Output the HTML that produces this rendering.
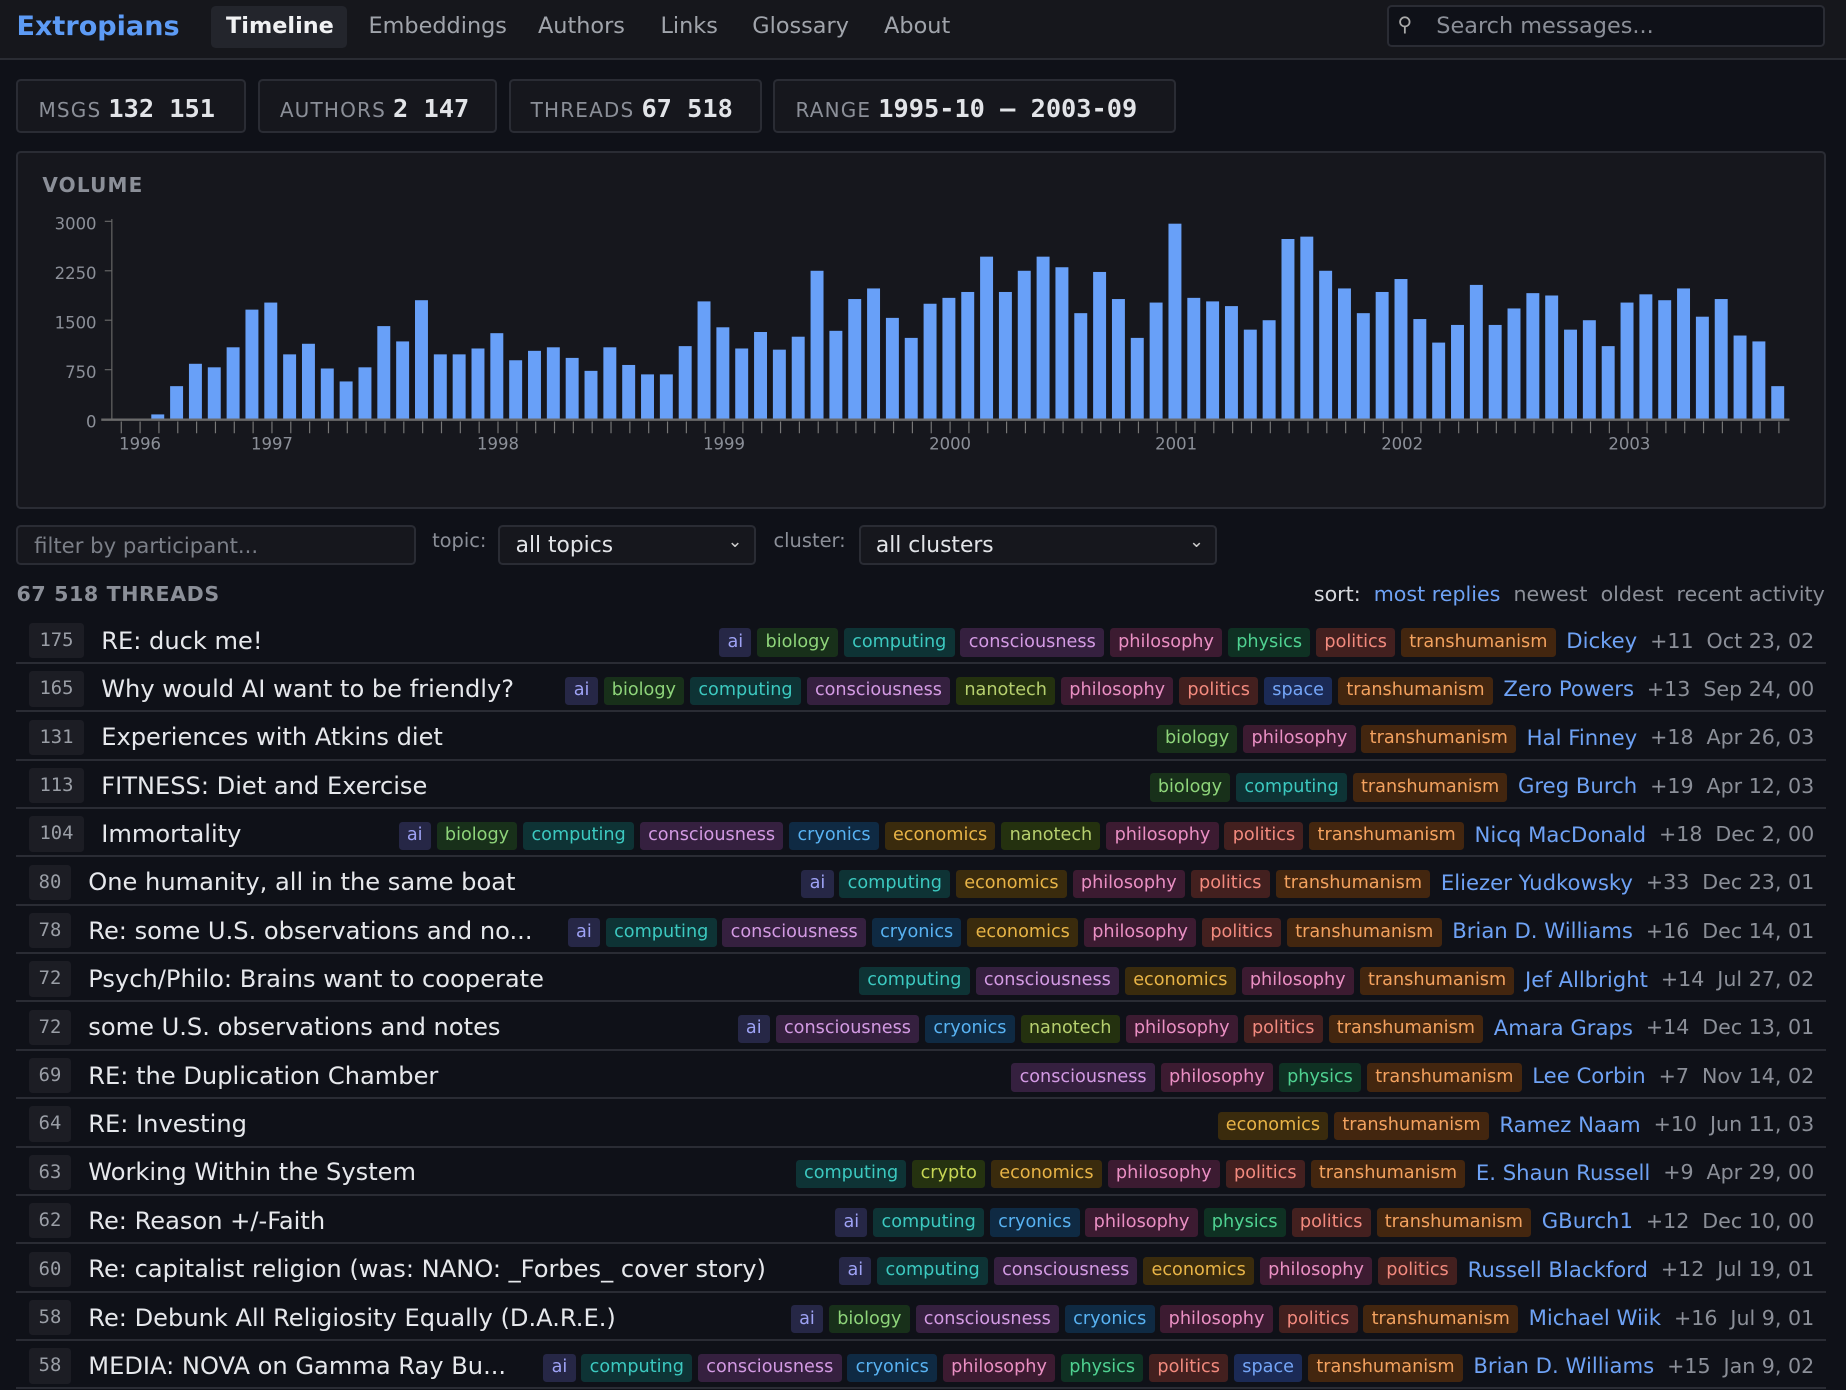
<!DOCTYPE html>
<html><head><meta charset="utf-8"><style>
*{box-sizing:border-box;margin:0;padding:0}
html,body{width:1846px;height:1390px;overflow:hidden;background:#0f1118}
#w{zoom:1.17730;width:1568px;height:1181px;position:relative;font-family:"DejaVu Sans","Liberation Sans",sans-serif;color:#c9ccd3}
.nav{position:absolute;left:0;top:0;width:1568px;height:51px;background:#16171c;border-bottom:2px solid #2a2c33}
.abs{position:absolute;white-space:nowrap}
.card{position:absolute;background:#16171d;border:2px solid #2a2c34;border-radius:4px}
.stat{top:67px;height:46px;font-size:17px;color:#8b8f98;letter-spacing:1px;padding:11px 17px}
.stat b{color:#e2e4e8;font-family:"DejaVu Sans Mono","Liberation Mono",monospace;font-size:21.5px;margin-left:6px;letter-spacing:0}
.row{position:absolute;left:14px;width:1537px;height:41px;border-bottom:2px solid #2a2c34;display:flex;align-items:center;padding-top:3px}
.cnt{margin-left:11px;width:46px;height:30px;background:#1c1d24;border-radius:3px;color:#9a9ea6;font-family:"DejaVu Sans Mono",monospace;font-size:16px;text-align:center;line-height:30px}
.cnt.s{width:35px}
.t{margin-left:15px;font-size:20.5px;color:#e6e8ec;white-space:nowrap;flex:1}
.tags{display:flex;gap:5px;align-items:center;white-space:nowrap;padding-top:3px}
.tg{font-size:15px;padding:2px 7px;border-radius:3px;line-height:20px}
.au{color:#6ea2f5;font-size:18px;margin-left:9px}
.pl{color:#8b8f98;font-size:17.5px;margin-left:11px}
.dt{color:#8b8f98;font-size:17.5px;margin-left:11px;margin-right:10px}
.ai{background:#262746;color:#9ea2f5}.biology{background:#18301a;color:#8ed47a}.computing{background:#0e3335;color:#3cc9c0}
.consciousness{background:#35203f;color:#d39ae3}.philosophy{background:#3c1b31;color:#ea8fc3}.physics{background:#0f3123;color:#4fd191}
.politics{background:#43201f;color:#f28a7e}.transhumanism{background:#43260f;color:#f3a25f}.nanotech{background:#24310f;color:#b6cf6e}
.cryonics{background:#0f2a43;color:#58b2f2}.economics{background:#3a2b0d;color:#e8b447}.space{background:#1b2a55;color:#74a5f7}.crypto{background:#253210;color:#c6d654}
</style></head><body><div id="w">
<div class="nav"></div>
<div class="abs" style="left:14px;top:9px;font-size:23px;font-weight:bold;color:#5d9bf5">Extropians</div>
<div class="abs" style="left:179px;top:5px;width:116px;height:36px;background:#23252c;border-radius:4px"></div>
<div class="abs" style="left:192px;top:11px;font-size:19px;font-weight:bold;color:#f0f1f3">Timeline</div>
<div class="abs" style="left:313px;top:11px;font-size:19px;color:#a0a4ab">Embeddings</div>
<div class="abs" style="left:457px;top:11px;font-size:19px;color:#a0a4ab">Authors</div>
<div class="abs" style="left:561px;top:11px;font-size:19px;color:#a0a4ab">Links</div>
<div class="abs" style="left:639px;top:11px;font-size:19px;color:#a0a4ab">Glossary</div>
<div class="abs" style="left:751px;top:11px;font-size:19px;color:#a0a4ab">About</div>
<div class="abs" style="left:1178px;top:4px;width:372px;height:36px;background:#0f1118;border:2px solid #2a2c34;border-radius:4px"></div>
<div class="abs" style="left:1187px;top:10px;font-size:17px;color:#aaa">&#9906;</div>
<div class="abs" style="left:1220px;top:11px;font-size:19px;color:#8b8f98">Search messages...</div>

<div class="card stat" style="left:14px;width:195px">MSGS<b>132 151</b></div>
<div class="card stat" style="left:219px;width:203px">AUTHORS<b>2 147</b></div>
<div class="card stat" style="left:432px;width:215px">THREADS<b>67 518</b></div>
<div class="card stat" style="left:657px;width:342px">RANGE<b>1995-10 – 2003-09</b></div>

<div class="card" style="left:14px;top:128px;width:1537px;height:304px"></div>
<div class="abs" style="left:36px;top:147px;font-size:17px;font-weight:bold;color:#8b8f98;letter-spacing:1px">VOLUME</div>
<svg class="abs" style="left:0;top:0" width="1568" height="440" font-family="DejaVu Sans,sans-serif" font-size="14" fill="#8b8f98">
<g id="bars" fill="#68a0f8"></g>
<line x1="95" y1="186" x2="95" y2="357" stroke="#666" stroke-width="1"/>
<g stroke="#666"><line x1="89" y1="188" x2="95" y2="188"/><line x1="89" y1="230" x2="95" y2="230"/><line x1="89" y1="272" x2="95" y2="272"/><line x1="89" y1="314" x2="95" y2="314"/><line x1="89" y1="356" x2="95" y2="356"/></g>
<line x1="86" y1="356.5" x2="1520" y2="356.5" stroke="#6a6a6a" stroke-width="2"/>
<g id="ticks" stroke="#777"></g>
<g text-anchor="end"><text x="82" y="195">3000</text><text x="82" y="237">2250</text><text x="82" y="279">1500</text><text x="82" y="321">750</text><text x="82" y="363">0</text></g>
<g text-anchor="middle"><text x="119" y="382">1996</text><text x="231" y="382">1997</text><text x="423" y="382">1998</text><text x="615" y="382">1999</text><text x="807" y="382">2000</text><text x="999" y="382">2001</text><text x="1191" y="382">2002</text><text x="1384" y="382">2003</text></g>
</svg>

<div class="abs" style="left:14px;top:446px;width:339px;height:34px;background:#16171d;border:2px solid #2a2c34;border-radius:4px"></div>
<div class="abs" style="left:29px;top:453px;font-size:18px;color:#7b7f88">filter by participant...</div>
<div class="abs" style="left:367px;top:449px;font-size:16.5px;color:#8b8f98">topic:</div>
<div class="abs" style="left:423px;top:446px;width:219px;height:34px;background:#16171d;border:2px solid #2a2c34;border-radius:4px"></div>
<div class="abs" style="left:438px;top:453px;font-size:18.5px;color:#e2e4e8">all topics</div>
<div class="abs" style="left:618px;top:452px;font-size:15px;color:#ccc">&#8964;</div>
<div class="abs" style="left:657px;top:449px;font-size:16.5px;color:#8b8f98">cluster:</div>
<div class="abs" style="left:730px;top:446px;width:304px;height:34px;background:#16171d;border:2px solid #2a2c34;border-radius:4px"></div>
<div class="abs" style="left:744px;top:453px;font-size:18.5px;color:#e2e4e8">all clusters</div>
<div class="abs" style="left:1010px;top:452px;font-size:15px;color:#ccc">&#8964;</div>

<div class="abs" style="left:14px;top:494px;font-size:17.5px;font-weight:bold;color:#8b8f98;letter-spacing:0.5px">67 518 THREADS</div>
<div class="abs" style="right:18px;top:494px;font-size:17.5px;color:#8b8f98"><span style="color:#d8dade">sort:</span> &nbsp;<span style="color:#6ea2f5">most replies</span> &nbsp;newest &nbsp;oldest &nbsp;recent activity</div>

<div id="rows"></div>
</div>
<script>
var h=[352,328,309,312,295,263,257,301,292,313,324,312,277,290,255,301,301,296,283,306,298,295,304,315,295,310,318,318,294,256,278,296,282,297,286,230,281,254,245,270,287,258,253,248,218,248,230,218,227,266,231,254,287,257,190,253,256,260,280,272,203,201,230,245,266,248,237,271,291,276,242,276,262,249,251,280,272,294,257,250,255,245,269,254,285,290,328];
var b='',t='';
for(var i=0;i<h.length;i++){var x=134+i*16;b+='<rect x="'+(x-5.5)+'" y="'+h[i]+'" width="11" height="'+(356-h[i])+'"/>';}
for(var x=103;x<=1514;x+=16){t+='<line x1="'+x+'" y1="358" x2="'+x+'" y2="368"/>';}
document.getElementById('bars').innerHTML=b;document.getElementById('ticks').innerHTML=t;
var R=[[175,"RE: duck me!","ai biology computing consciousness philosophy physics politics transhumanism","Dickey","+11","Oct 23, 02"],
[165,"Why would AI want to be friendly?","ai biology computing consciousness nanotech philosophy politics space transhumanism","Zero Powers","+13","Sep 24, 00"],
[131,"Experiences with Atkins diet","biology philosophy transhumanism","Hal Finney","+18","Apr 26, 03"],
[113,"FITNESS: Diet and Exercise","biology computing transhumanism","Greg Burch","+19","Apr 12, 03"],
[104,"Immortality","ai biology computing consciousness cryonics economics nanotech philosophy politics transhumanism","Nicq MacDonald","+18","Dec 2, 00"],
[80,"One humanity, all in the same boat","ai computing economics philosophy politics transhumanism","Eliezer Yudkowsky","+33","Dec 23, 01"],
[78,"Re: some U.S. observations and no...","ai computing consciousness cryonics economics philosophy politics transhumanism","Brian D. Williams","+16","Dec 14, 01"],
[72,"Psych/Philo: Brains want to cooperate","computing consciousness economics philosophy transhumanism","Jef Allbright","+14","Jul 27, 02"],
[72,"some U.S. observations and notes","ai consciousness cryonics nanotech philosophy politics transhumanism","Amara Graps","+14","Dec 13, 01"],
[69,"RE: the Duplication Chamber","consciousness philosophy physics transhumanism","Lee Corbin","+7","Nov 14, 02"],
[64,"RE: Investing","economics transhumanism","Ramez Naam","+10","Jun 11, 03"],
[63,"Working Within the System","computing crypto economics philosophy politics transhumanism","E. Shaun Russell","+9","Apr 29, 00"],
[62,"Re: Reason +/-Faith","ai computing cryonics philosophy physics politics transhumanism","GBurch1","+12","Dec 10, 00"],
[60,"Re: capitalist religion (was: NANO: _Forbes_ cover story)","ai computing consciousness economics philosophy politics","Russell Blackford","+12","Jul 19, 01"],
[58,"Re: Debunk All Religiosity Equally (D.A.R.E.)","ai biology consciousness cryonics philosophy politics transhumanism","Michael Wiik","+16","Jul 9, 01"],
[58,"MEDIA: NOVA on Gamma Ray Bu...","ai computing consciousness cryonics philosophy physics politics space transhumanism","Brian D. Williams","+15","Jan 9, 02"]];
var s='';
R.forEach(function(r,i){var top=523+i*41.07;
var tg=r[2].split(' ').map(function(x){return '<span class="tg '+x+'">'+x+'</span>'}).join('');
s+='<div class="row" style="top:'+top+'px"><div class="cnt'+(r[0]<100?' s':'')+'">'+r[0]+'</div><div class="t">'+r[1]+'</div><div class="tags">'+tg+'</div><span class="au">'+r[3]+'</span><span class="pl">'+r[4]+'</span><span class="dt">'+r[5]+'</span></div>';});
document.getElementById('rows').innerHTML=s;
</script>
</body></html>
